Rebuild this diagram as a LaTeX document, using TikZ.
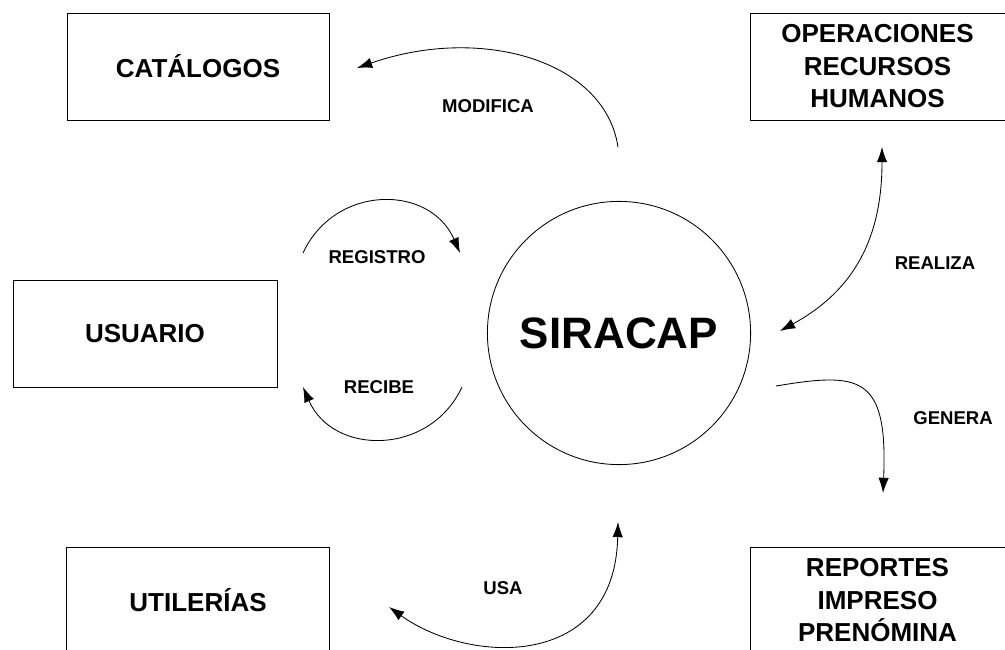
\documentclass[tikz,border=0pt]{standalone}
\usepackage{fontspec}
\setmainfont{Liberation Sans}
\usepackage{tikz}
\usetikzlibrary{shapes,arrows.meta,positioning,calc}

\begin{document}
\begin{tikzpicture}[
    hd/.tip={Latex[length=3.8mm,width=2.6mm]},
    box/.style={draw,line width=0.6pt,minimum width=6.55cm,minimum height=2.675cm,
        align=center,font=\bfseries\fontsize{18.5}{23.1}\selectfont},
    lbl/.style={font=\bfseries\fontsize{13.2}{16}\selectfont},
    flow/.style={line width=0.6pt}
    ]
    \useasboundingbox (0,0) rectangle (25.125,16.225);

    % Entities
    \node[box] (cat) at (4.95,14.5625) {CATÁLOGOS};
    \node[box,minimum width=6.375cm] (ope) at (21.9375,14.5625) {OPERACIONES\\RECURSOS\\HUMANOS};
    \node[box,minimum width=6.6cm] (usr) at (3.625,7.8875) {USUARIO};
    \node[box,minimum width=6.575cm] (utl) at (4.95,1.2125) {UTILERÍAS};
    \node[box,minimum width=6.375cm] (rep) at (21.9375,1.2125) {REPORTES\\IMPRESO\\PRENÓMINA};

    % System
    \node[circle,draw,line width=0.6pt,minimum size=6.58cm,
        font=\bfseries\fontsize{31.3}{36}\selectfont] (sys) at (15.475,7.9) {SIRACAP};

    % Flow ends
    \coordinate (modA) at (15.45,12.55);
    \coordinate (modB) at (8.925,14.525);
    \coordinate (regA) at (7.575,9.9);
    \coordinate (regB) at (11.5,9.9);
    \coordinate (recA) at (11.55,6.55);
    \coordinate (recB) at (7.575,6.55);
    \coordinate (reaA) at (22.05,12.55);
    \coordinate (reaB) at (19.5,7.95);
    \coordinate (genA) at (19.4,6.575);
    \coordinate (genB) at (22.075,3.9);
    \coordinate (usaA) at (9.725,1.05);
    \coordinate (usaB) at (15.45,3.175);

    % Flows
    \draw[flow,-hd] (modA) .. controls +(-0.33,2.18) and +(3.075,1.075) .. (modB);
    \draw[flow,-hd] (regA) .. controls +(0.8,1.725) and +(-0.75,1.725) .. (regB);
    \draw[flow,-hd] (recA) .. controls +(-0.8,-1.725) and +(0.75,-1.725) .. (recB);
    \draw[flow,hd-hd] (reaA) .. controls +(0,-2.25) and +(1.875,1.025) .. (reaB);
    \draw[flow,-hd] (genA) .. controls +(2.1,0.35) and +(0.125,2.95) .. (genB);
    \draw[flow,hd-hd] (usaA) .. controls +(2.025,-1.45) and +(-0.075,-3.7) .. (usaB);

    % Labels
    \node[lbl] (lmod) at (12.2,13.575) {MODIFICA};
    \node[lbl] (lreg) at (9.425,9.8) {REGISTRO};
    \node[lbl] (lrec) at (9.475,6.55) {RECIBE};
    \node[lbl] (lrea) at (23.375,9.65) {REALIZA};
    \node[lbl] (lgen) at (23.825,5.775) {GENERA};
    \node[lbl] (lusa) at (12.575,1.525) {USA};
\end{tikzpicture}
\end{document}
